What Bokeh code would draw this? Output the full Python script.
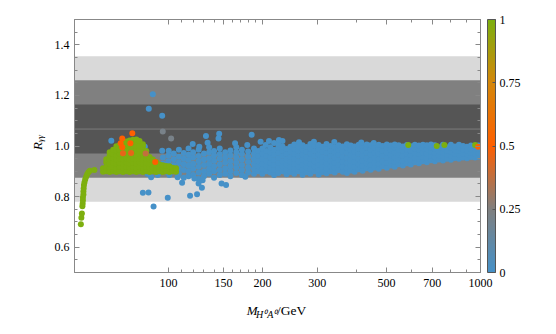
import math
from bokeh.plotting import figure
from bokeh.models import (ColumnDataSource, LinearColorMapper, ColorBar, FixedTicker, LogAxis,
                          LinearAxis, BoxAnnotation, Span, Label, Range1d, BasicTickFormatter,
                          CustomJSTickFormatter)
from bokeh.embed import file_html
from bokeh.resources import INLINE

# ---------------- data ----------------
x_ticks = [100, 150, 200, 300, 500, 700, 1000]
x_minor = [110, 120, 130, 140, 160, 170, 180, 190, 400, 600, 800, 900]
y_ticks = [0.6, 0.8, 1.0, 1.2, 1.4]
y_minor = [0.5, 0.55, 0.65, 0.7, 0.75, 0.85, 0.9, 0.95, 1.05, 1.1, 1.15, 1.25, 1.3, 1.35, 1.45, 1.5]
cb_ticks = [0, 0.25, 0.5, 0.75, 1]

band_lo = [0.78, 0.875, 0.97]
band_hi = [1.355, 1.26, 1.164]
band_center = 1.067

blue_cols = [
    (96, [0.905, 0.93, 0.955]),
    (100, [0.895, 0.92, 0.94, 0.962]),
    (104, [0.9, 0.925, 0.948, 0.97]),
    (108, [0.89, 0.912, 0.935, 0.958, 0.985]),
    (112, [0.875, 0.905, 0.928, 0.95, 0.972]),
    (116, [0.88, 0.9, 0.922, 0.945, 0.965, 0.99]),
    (120, [0.885, 0.91, 0.93, 0.955, 0.975]),
    (125, [0.87, 0.895, 0.918, 0.94, 0.96, 0.985]),
    (130, [0.88, 0.9, 0.925, 0.948, 0.97]),
    (135, [0.89, 0.91, 0.93, 0.952, 0.975, 0.995]),
    (140, [0.875, 0.9, 0.92, 0.942, 0.962, 0.98]),
    (146, [0.885, 0.905, 0.927, 0.95, 0.968, 0.99]),
    (152, [0.89, 0.912, 0.935, 0.955, 0.975]),
    (158, [0.88, 0.9, 0.92, 0.94, 0.962, 0.982]),
    (165, [0.893, 0.915, 0.935, 0.955, 0.975, 0.995]),
    (172, [0.885, 0.905, 0.925, 0.947, 0.968, 0.985]),
    (180, [0.895, 0.915, 0.937, 0.958, 0.978]),
    (188, [0.89, 0.91, 0.93, 0.95, 0.97, 0.99]),
    (194, [0.9, 0.92, 0.94, 0.96, 0.98]),
    (200, [0.89, 0.91, 0.93, 0.95, 0.97, 0.99]),
    (206, [0.9, 0.92, 0.94, 0.96, 0.98]),
    (212, [0.895, 0.915, 0.935, 0.955, 0.975, 0.995]),
    (218, [0.885, 0.905, 0.925, 0.945, 0.965, 0.985]),
    (225, [0.893, 0.913, 0.933, 0.953, 0.973, 0.993, 1.008]),
    (232, [0.9, 0.92, 0.94, 0.96, 0.98, 0.998]),
    (239, [0.888, 0.908, 0.928, 0.948, 0.968, 0.988]),
    (246, [0.897, 0.917, 0.937, 0.957, 0.977, 0.997]),
    (253, [0.89, 0.91, 0.93, 0.95, 0.97, 0.99, 1.006]),
    (261, [0.9, 0.92, 0.94, 0.96, 0.98, 0.998]),
    (269, [0.886, 0.906, 0.926, 0.946, 0.966, 0.986, 1.003]),
    (277, [0.896, 0.916, 0.936, 0.956, 0.976, 0.996]),
    (285, [0.89, 0.91, 0.93, 0.95, 0.97, 0.99, 1.008]),
    (294, [0.9, 0.92, 0.94, 0.96, 0.98, 1.0]),
    (303, [0.887, 0.907, 0.927, 0.947, 0.967, 0.987, 1.004]),
    (312, [0.897, 0.917, 0.937, 0.957, 0.977, 0.997]),
    (321, [0.892, 0.912, 0.932, 0.952, 0.972, 0.992, 1.008]),
    (331, [0.9, 0.92, 0.94, 0.96, 0.98, 1.0]),
    (341, [0.895, 0.915, 0.935, 0.955, 0.975, 0.995]),
    (351, [0.905, 0.925, 0.945, 0.965, 0.985, 1.003]),
    (362, [0.898, 0.918, 0.938, 0.958, 0.978, 0.998]),
    (373, [0.893, 0.913, 0.933, 0.953, 0.973, 0.993, 1.007]),
    (384, [0.903, 0.923, 0.943, 0.963, 0.983, 1.002]),
    (395, [0.898, 0.918, 0.938, 0.958, 0.978, 0.998]),
    (407, [0.908, 0.928, 0.948, 0.968, 0.988, 1.005]),
    (419, [0.902, 0.922, 0.942, 0.962, 0.982, 1.0]),
    (432, [0.912, 0.932, 0.952, 0.972, 0.992, 1.006]),
    (445, [0.906, 0.926, 0.946, 0.966, 0.986, 1.003]),
    (458, [0.915, 0.935, 0.955, 0.975, 0.995]),
    (472, [0.91, 0.93, 0.95, 0.97, 0.99, 1.005]),
    (486, [0.92, 0.94, 0.96, 0.98, 1.0]),
    (501, [0.914, 0.934, 0.954, 0.974, 0.994, 1.006]),
    (516, [0.923, 0.943, 0.963, 0.983, 1.002]),
    (531, [0.918, 0.937, 0.956, 0.975, 0.994, 1.006]),
    (547, [0.928, 0.947, 0.966, 0.985, 1.003]),
    (564, [0.923, 0.942, 0.961, 0.98, 0.998]),
    (581, [0.932, 0.95, 0.968, 0.986, 1.004]),
    (598, [0.927, 0.945, 0.963, 0.981, 0.999]),
    (616, [0.936, 0.954, 0.972, 0.99, 1.005]),
    (635, [0.932, 0.95, 0.968, 0.986, 1.002]),
    (654, [0.94, 0.957, 0.974, 0.991, 1.005]),
    (673, [0.936, 0.953, 0.97, 0.987, 1.003]),
    (694, [0.944, 0.96, 0.976, 0.992, 1.006]),
    (714, [0.94, 0.956, 0.972, 0.988, 1.003]),
    (736, [0.947, 0.963, 0.979, 0.995]),
    (758, [0.943, 0.959, 0.975, 0.991, 1.005]),
    (781, [0.95, 0.965, 0.98, 0.995]),
    (804, [0.946, 0.962, 0.977, 0.992, 1.005]),
    (828, [0.953, 0.968, 0.983, 0.998]),
    (853, [0.95, 0.965, 0.98, 0.995, 1.005]),
    (879, [0.955, 0.97, 0.985, 1.0]),
    (905, [0.952, 0.967, 0.982, 0.997]),
    (932, [0.957, 0.972, 0.987, 1.002]),
    (960, [0.955, 0.97, 0.985, 1.0]),
    (985, [0.958, 0.973, 0.988, 1.002]),
]

blue_x = [89.1, 86.5, 95.5, 65.6, 84.0, 69.4, 95.5, 100.2,
          82.8, 86.3, 89.6, 99.5, 110.6, 117.3, 123.5, 121.1, 124.9, 128.0, 128.7, 148.0, 153.0, 176.3,
          131.9, 145.4, 144.7, 184.8, 119.6, 133.5, 125.6, 163.5, 178.9, 197.4, 204.9,
          88.0, 85.9, 92.4, 100.7, 107.0, 210.0, 218.0, 226.0, 232.0, 262.0, 292.6,
          340.0, 415.0, 455.0]
blue_y = [1.205, 1.147, 1.12, 1.021, 0.997, 0.984, 0.981, 0.981,
          0.815, 0.816, 0.761, 0.795, 0.855, 0.803, 0.809, 0.872, 0.852, 0.835, 0.865, 0.852, 0.846, 0.878,
          1.04, 1.048, 1.03, 1.044, 1.008, 1.013, 0.997, 1.011, 1.004, 1.017, 1.004,
          0.876, 0.889, 0.885, 0.885, 0.876, 1.02, 1.012, 1.024, 1.02, 1.015, 1.017,
          1.016, 1.014, 1.012]

green_line_x = [52.4, 52.6, 52.8, 53.0, 53.1, 53.2, 53.2, 53.4, 53.4, 53.5, 53.6, 53.8, 54.1, 54.5, 54.9,
                55.4, 56.0, 57.9]
green_line_y = [0.691, 0.716, 0.733, 0.762, 0.772, 0.785, 0.796, 0.808, 0.82, 0.832, 0.845, 0.856, 0.868,
                0.878, 0.888, 0.896, 0.902, 0.905]

green_cols = [
    (61.7, [0.898, 0.912]),
    (63.2, [0.9, 0.916, 0.935, 0.948]),
    (64.8, [0.897, 0.913, 0.93, 0.947, 0.962, 0.975]),
    (66.5, [0.9, 0.917, 0.934, 0.951, 0.968, 0.985]),
    (68.1, [0.897, 0.914, 0.931, 0.948, 0.965, 0.982, 0.999]),
    (69.8, [0.9, 0.917, 0.934, 0.951, 0.968, 0.985, 1.004]),
    (71.5, [0.897, 0.914, 0.931, 0.948, 0.965, 0.982, 0.999, 1.013]),
    (73.3, [0.9, 0.917, 0.934, 0.951, 0.968, 0.985, 1.002, 1.018]),
    (75.1, [0.897, 0.914, 0.931, 0.948, 0.965, 0.982, 0.999, 1.016, 1.022]),
    (77.0, [0.9, 0.917, 0.934, 0.951, 0.968, 0.985, 1.002, 1.019, 1.025]),
    (78.9, [0.897, 0.914, 0.931, 0.948, 0.965, 0.982, 0.999, 1.016, 1.026]),
    (80.8, [0.9, 0.917, 0.934, 0.951, 0.968, 0.985, 1.002, 1.02]),
    (82.8, [0.897, 0.914, 0.931, 0.948, 0.965, 0.982, 0.998, 1.007]),
    (84.9, [0.9, 0.917, 0.934, 0.951, 0.966, 0.98]),
    (87.0, [0.897, 0.914, 0.931, 0.946, 0.957]),
    (89.1, [0.9, 0.915, 0.93, 0.947]),
    (91.3, [0.897, 0.913, 0.926, 0.937]),
    (93.6, [0.9, 0.914, 0.927]),
    (95.9, [0.897, 0.912, 0.924]),
    (98.3, [0.9, 0.914, 0.921]),
    (100.7, [0.897, 0.912, 0.92]),
    (103.2, [0.9, 0.914]),
    (105.8, [0.898, 0.912]),
]
green_hi_x = [587, 724, 766, 961]
green_hi_y = [1.004, 1.0, 1.004, 1.004]

mid_x = [76.6, 71.1, 70.3, 75.5, 71.1, 90.7, 71.5, 75.9, 84.5, 95.9, 102.0, 983]
mid_y = [1.05, 1.03, 1.011, 1.011, 0.995, 0.937, 0.971, 0.972, 0.97, 1.057, 1.03, 0.997]
mid_v = [0.5, 0.5, 0.5, 0.5, 0.5, 0.5, 0.45, 0.45, 0.38, 0.22, 0.22, 0.5]

# ---------------- assemble ----------------
xs, ys, vs = [], [], []
for x, yl in blue_cols:
    for y in yl:
        xs.append(x); ys.append(y); vs.append(0.0)
for x, y in zip(blue_x, blue_y):
    xs.append(x); ys.append(y); vs.append(0.0)
for x, y in zip(green_line_x, green_line_y):
    xs.append(x); ys.append(y); vs.append(1.0)
for x, yl in green_cols:
    for y in yl:
        xs.append(x); ys.append(y); vs.append(1.0)
for x, y in zip(green_hi_x, green_hi_y):
    xs.append(x); ys.append(y); vs.append(1.0)
for x, y, v in zip(mid_x, mid_y, mid_v):
    xs.append(x); ys.append(y); vs.append(v)

stops = [(0.0, (70, 145, 200)), (0.25, (128, 128, 128)), (0.5, (255, 95, 0)),
         (0.75, (212, 135, 10)), (1.0, (125, 175, 15))]
palette = []
for i in range(256):
    t = i / 255
    c = stops[-1][1]
    for (t0, c0), (t1, c1) in zip(stops[:-1], stops[1:]):
        if t0 <= t <= t1:
            f = (t - t0) / (t1 - t0)
            c = tuple(int(round(a + (b - a) * f)) for a, b in zip(c0, c1))
            break
    palette.append('#%02x%02x%02x' % c)
mapper = LinearColorMapper(palette=palette, low=0, high=1)

SERIF = "'Liberation Serif'"

p = figure(width=552, height=330, x_axis_type='log',
           x_range=Range1d(50, 1000), y_range=Range1d(0.5, 1.5),
           output_backend='svg', toolbar_location=None,
           min_border_left=74, min_border_top=19, min_border_bottom=58, min_border_right=70)
p.grid.visible = False
p.outline_line_color = '#888888'
p.background_fill_color = 'white'
p.border_fill_color = 'white'

band_colors = ['#d9d9d9', '#808080', '#555555']
for lo, hi, col in zip(band_lo, band_hi, band_colors):
    p.add_layout(BoxAnnotation(bottom=lo, top=hi, fill_color=col, fill_alpha=1.0,
                               line_color=None, level='underlay'))
p.add_layout(Span(location=band_center, dimension='width', line_color='#7c7c7c',
                  line_width=1, level='underlay'))

src = ColumnDataSource(dict(x=xs, y=ys, v=vs))
p.scatter('x', 'y', source=src, size=6, line_color=None,
          fill_color={'field': 'v', 'transform': mapper})

xt = FixedTicker(ticks=x_ticks, minor_ticks=x_minor)
yt = FixedTicker(ticks=y_ticks, minor_ticks=y_minor)
empty = CustomJSTickFormatter(code="return ''")

def style(ax):
    ax.axis_line_color = '#888888'
    ax.major_tick_line_color = '#888888'
    ax.minor_tick_line_color = '#888888'
    ax.major_tick_in = 5
    ax.major_tick_out = 0
    ax.minor_tick_in = 3
    ax.minor_tick_out = 0
    ax.major_label_text_font = SERIF
    ax.major_label_text_font_size = '12px'
    ax.major_label_text_color = 'black'

xa = p.xaxis[0]
xa.ticker = xt
xa.formatter = BasicTickFormatter()
style(xa)
xa.major_label_standoff = 6
ya = p.yaxis[0]
ya.ticker = yt
ya.formatter = CustomJSTickFormatter(code="return tick.toFixed(1)")
style(ya)
ya.major_label_standoff = 5

top = LogAxis(ticker=xt, formatter=empty)
style(top)
top.major_label_standoff = 0
p.add_layout(top, 'above')
right = LinearAxis(ticker=yt, formatter=empty)
style(right)
right.major_label_standoff = 0
p.add_layout(right, 'right')

cb = ColorBar(color_mapper=mapper, ticker=FixedTicker(ticks=cb_ticks),
              formatter=CustomJSTickFormatter(code="return String(tick)"),
              width=8, height='auto', margin=0, padding=0, label_standoff=4,
              location=(7, 0),
              major_label_text_font=SERIF, major_label_text_font_size='12px',
              major_label_text_color='black',
              bar_line_color='#555555', major_tick_line_color='#555555',
              major_tick_in=3, major_tick_out=0,
              border_line_color=None, background_fill_color=None)
p.add_layout(cb, 'right')

# axis titles: labels live in side panels (not clipped), placed with data coordinates
def gev(px):
    return 10 ** (2 + (px - 169) / 313.3)

def rval(py):
    return 1.0 - (py - 146) / 252.5

def lab(side, px, py, text, size, italic=True, angle=0.0):
    p.add_layout(Label(x=gev(px), y=rval(py), text=text,
                       text_font=SERIF, text_font_size=size,
                       text_font_style='italic' if italic else 'normal',
                       text_color='black', text_baseline='alphabetic', text_align='left',
                       angle=angle), side)

lab('below', 247.5, 310, 'M', '13px')
lab('below', 257, 314, 'H⁰A⁰', '10px')
lab('right', 278, 310, '/GeV', '13.5px', italic=False)
lab('left', 37.5, 150, 'R', '13px', angle=math.pi / 2)
lab('left', 40, 142, 'γγ', '9px', angle=math.pi / 2)

open('out.html', 'w').write(file_html(p, INLINE))
